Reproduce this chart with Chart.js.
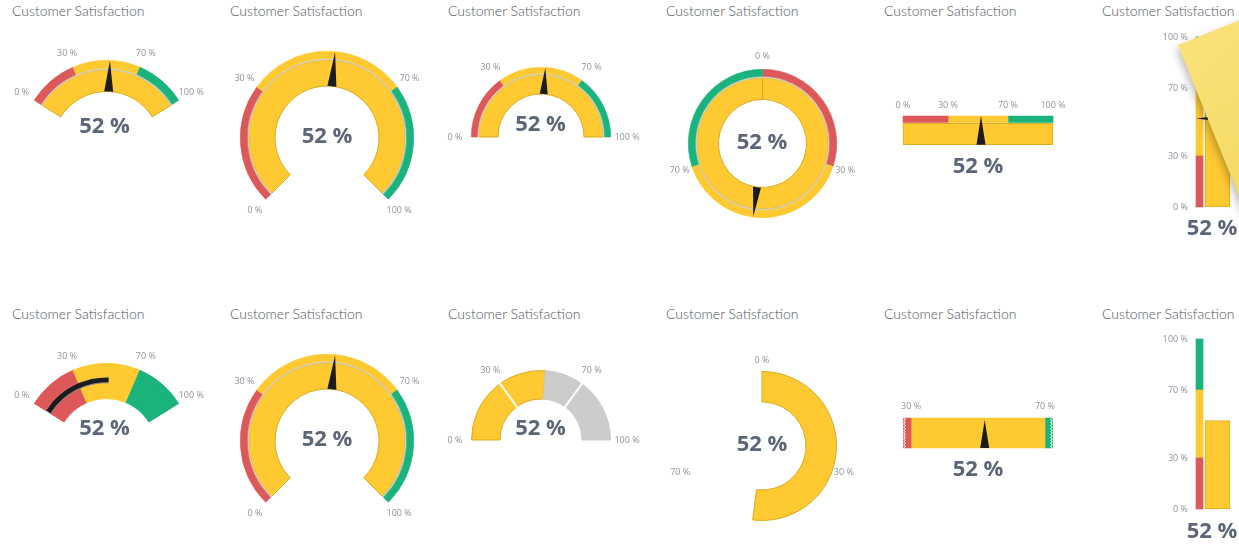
<!DOCTYPE html>
<html>
<head>
<meta charset="utf-8">
<title>Customer Satisfaction gauges</title>
<script src="https://cdn.jsdelivr.net/npm/chart.js@4.4.1/dist/chart.umd.min.js"></script>
<style>
  html, body { margin: 0; padding: 0; background: #fff; }
  #board { position: relative; width: 1239px; height: 545px; overflow: hidden; }
  .title { position: absolute; font-family: 'Lato', 'Open Sans', sans-serif; font-weight: 300; font-size: 14px; line-height: 16px; color: #4f555c; white-space: nowrap; }
  canvas { position: absolute; }
  .note {
    position: absolute; left: 1178px; top: 45px; width: 190px; height: 280px;
    transform-origin: 0 0; transform: rotate(-22deg);
    background: linear-gradient(160deg, #f9e27a 0%, #f5da66 45%, #f0d159 100%);
    box-shadow: -3px 4px 8px rgba(0, 0, 0, 0.28);
  }
</style>
</head>
<body>
<div id="board"></div>
<script>
const TITLE = 'Customer Satisfaction';
const VALUE = 52;
const THRESHOLDS = [0, 30, 70, 100];
const TICK_LABELS = ['0 %', '30 %', '70 %', '100 %'];
const ZONE_COLORS = ['#dd5858', '#fec931', '#1ab37b'];
const ZOOM_MIN = 27.6;
const ZOOM_MAX = 72.4;

const YELLOW = '#fec931';
const YELLOW_EDGE = '#d9ab22';
const TRACK = '#cccccc';
const NEEDLE = '#1c1c1c';
const SEPARATOR = '#d6d0bb';
const LABEL_COLOR = '#8d939c';
const VALUE_COLOR = '#5c6678';
const VALUE_TEXT = VALUE + ' %';
const SCALE_MAX = THRESHOLDS[THRESHOLDS.length - 1];

const zoneSizes = THRESHOLDS.slice(1).map((t, i) => t - THRESHOLDS[i]);

const COLUMNS = [12, 230, 448, 666, 884, 1102];
const ROWS = [3, 306];

const board = document.getElementById('board');

// value first, then whatever is left of each zone above it
function valueSplit() {
    const segs = [{ size: VALUE, filled: true, zone: -1 }];
    let from = VALUE;
    THRESHOLDS.filter(t => t > VALUE).forEach(t => {
        segs.push({ size: t - from, filled: false, zone: THRESHOLDS.indexOf(t) - 1 });
        from = t;
    });
    return segs;
}

function addTitle(left, top) {
    const d = document.createElement('div');
    d.className = 'title';
    d.style.left = left + 'px';
    d.style.top = top + 'px';
    d.textContent = TITLE;
    board.appendChild(d);
}

function addCanvas(left, top, width, height) {
    const c = document.createElement('canvas');
    c.width = width;
    c.height = height;
    c.style.left = left + 'px';
    c.style.top = top + 'px';
    c.style.width = width + 'px';
    c.style.height = height + 'px';
    board.appendChild(c);
    return c;
}

const gaugeDecor = {
    id: 'gaugeDecor',
    afterDatasetsDraw(chart, args, o) {
        const ctx = chart.ctx;
        ctx.save();
        if (o.radial) drawRadialDecor(chart, ctx, o);
        else drawLinearDecor(chart, ctx, o);
        ctx.fillStyle = VALUE_COLOR;
        ctx.font = 'bold 22px "Open Sans", sans-serif';
        ctx.textAlign = 'center';
        ctx.textBaseline = 'middle';
        ctx.fillText(VALUE_TEXT, o.valueAt[0] - o.origin[0], o.valueAt[1] - o.origin[1]);
        ctx.restore();
    }
};

function drawRadialDecor(chart, ctx, o) {
    const outerArc = chart.getDatasetMeta(0).data[0];
    const innerArc = chart.getDatasetMeta(chart.data.datasets.length - 1).data[0];
    const cx = outerArc.x, cy = outerArc.y;
    const outerR = outerArc.outerRadius, innerR = innerArc.innerRadius;
    const angle = v => (o.start + v / SCALE_MAX * o.sweep) * Math.PI / 180;
    const toXY = (v, r) => [cx + r * Math.sin(angle(v)), cy - r * Math.cos(angle(v))];

    if (o.dividers) {
        ctx.strokeStyle = '#ffffff';
        ctx.lineWidth = 2;
        THRESHOLDS.slice(1, -1).forEach(t => {
            const a = toXY(t, innerR - 1), b = toXY(t, outerR + 1);
            ctx.beginPath();
            ctx.moveTo(a[0], a[1]);
            ctx.lineTo(b[0], b[1]);
            ctx.stroke();
        });
    }

    if (o.needle) {
        const a = angle(VALUE);
        const tip = toXY(VALUE, outerR - 0.5);
        const base = toXY(VALUE, innerR);
        const px = Math.cos(a) * o.needle, py = Math.sin(a) * o.needle;
        ctx.fillStyle = NEEDLE;
        ctx.beginPath();
        ctx.moveTo(tip[0], tip[1]);
        ctx.lineTo(base[0] + px, base[1] + py);
        ctx.lineTo(base[0] - px, base[1] - py);
        ctx.closePath();
        ctx.fill();
    }

    ctx.font = '9px "Open Sans", sans-serif';
    ctx.fillStyle = LABEL_COLOR;
    ctx.textAlign = 'center';
    ctx.textBaseline = 'middle';
    THRESHOLDS.forEach((t, i) => {
        if (o.sweep >= 360 && i === THRESHOLDS.length - 1) return;
        const p = toXY(t, o.labelR);
        ctx.fillText(TICK_LABELS[i], p[0], p[1]);
    });
}

function drawLinearDecor(chart, ctx, o) {
    const area = chart.chartArea;
    const scale = o.vertical ? chart.scales.y : chart.scales.x;

    if (o.zigzag) {
        ctx.strokeStyle = '#ffffff';
        ctx.lineWidth = 1;
        [[area.left, 1], [area.right, -1]].forEach(([x0, dir]) => {
            ctx.beginPath();
            let k = 0;
            for (let y = area.top; y <= area.bottom; y += 1.5, k++) {
                const x = x0 + dir * (k % 2 ? 2.5 : 0.5);
                if (k === 0) ctx.moveTo(x, y); else ctx.lineTo(x, y);
            }
            ctx.stroke();
        });
    }

    if (o.needle) {
        const from = chart.getDatasetMeta(o.needle.from[0]).data[o.needle.from[1]];
        const to = chart.getDatasetMeta(o.needle.to[0]).data[o.needle.to[1]];
        const p = scale.getPixelForValue(VALUE);
        const h = o.needle.half;
        ctx.fillStyle = NEEDLE;
        ctx.beginPath();
        if (o.vertical) {
            const tip = from.x - from.width / 2 + o.needle.inset;
            const base = to.x + to.width / 2;
            ctx.moveTo(tip, p);
            ctx.lineTo(base, p - h);
            ctx.lineTo(base, p + h);
        } else {
            const tip = from.y - from.height / 2 + o.needle.inset;
            const base = to.y + to.height / 2;
            ctx.moveTo(p, tip);
            ctx.lineTo(p - h, base);
            ctx.lineTo(p + h, base);
        }
        ctx.closePath();
        ctx.fill();
    }

    ctx.font = '9px "Open Sans", sans-serif';
    ctx.fillStyle = LABEL_COLOR;
    ctx.textBaseline = 'middle';
    THRESHOLDS.forEach((t, i) => {
        if (t < scale.min || t > scale.max) return;
        const p = scale.getPixelForValue(t);
        if (o.vertical) {
            ctx.textAlign = 'right';
            ctx.fillText(TICK_LABELS[i], o.labelAt - o.origin[0], p);
        } else {
            ctx.textAlign = 'center';
            ctx.fillText(TICK_LABELS[i], p, o.labelAt - o.origin[1]);
        }
    });
}

function radialGauge(g) {
    const pad = 36;
    const left = g.cx - g.r - pad, top = g.cy - g.r - pad;
    const size = 2 * (g.r + pad);
    const canvas = addCanvas(left, top, size, size);
    const filler = 360 - g.sweep;
    const datasets = g.rings.map(ring => {
        const data = ring.sizes.map(s => s * g.sweep / SCALE_MAX);
        const colors = ring.colors.slice();
        const edges = ring.edges ? ring.edges.slice() : ring.colors.map(c => ring.edge || c);
        const widths = ring.widths ? ring.widths.slice() : ring.colors.map(() => ring.edgeWidth === undefined ? 0.6 : ring.edgeWidth);
        if (filler > 0) {
            data.push(filler);
            colors.push('rgba(0,0,0,0)');
            edges.push('rgba(0,0,0,0)');
            widths.push(0);
        }
        return {
            data,
            backgroundColor: colors,
            borderColor: edges,
            borderWidth: widths,
            hoverBorderWidth: 0,
            hoverOffset: 0,
            weight: ring.weight
        };
    });
    new Chart(canvas, {
        type: 'doughnut',
        data: { datasets },
        options: {
            responsive: false,
            animation: false,
            events: [],
            rotation: g.start,
            circumference: 360,
            cutout: g.inner,
            layout: { padding: pad },
            plugins: {
                legend: { display: false },
                tooltip: { enabled: false },
                gaugeDecor: {
                    radial: true,
                    start: g.start,
                    sweep: g.sweep,
                    needle: g.needle || 0,
                    dividers: !!g.dividers,
                    labelR: g.labelR,
                    valueAt: g.valueAt,
                    origin: [left, top]
                }
            }
        },
        plugins: [gaugeDecor]
    });
}

function thresholdRings(band, sep, main) {
    return [
        { sizes: zoneSizes, colors: ZONE_COLORS, weight: band },
        { sizes: [SCALE_MAX], colors: [SEPARATOR], weight: sep },
        { sizes: [VALUE, SCALE_MAX - VALUE], colors: [YELLOW, YELLOW], edge: YELLOW_EDGE, edgeWidth: 1, weight: main }
    ];
}

function linearGauge(g) {
    const [left, top, width, height] = g.box;
    const canvas = addCanvas(left, top, width, height);
    const area = g.area; // page coords of the plot area: left, top, right, bottom
    const vertical = !!g.vertical;
    const datasets = g.datasets.map(d => Object.assign({
        borderWidth: 0,
        borderSkipped: false,
        stack: 'gauge',
        clip: g.clip === undefined ? false : g.clip
    }, d));
    const valueScale = { type: 'linear', min: g.min, max: g.max, stacked: true, display: false };
    const catScale = { type: 'category', labels: g.categories, offset: g.categories.length === 1, stacked: true, display: false };
    new Chart(canvas, {
        type: 'bar',
        data: { labels: g.categories, datasets },
        options: {
            indexAxis: vertical ? 'x' : 'y',
            responsive: false,
            animation: false,
            events: [],
            layout: {
                padding: {
                    left: area[0] - left,
                    top: area[1] - top,
                    right: left + width - area[2],
                    bottom: top + height - area[3]
                }
            },
            scales: vertical ? { x: catScale, y: valueScale } : { x: valueScale, y: catScale },
            plugins: {
                legend: { display: false },
                tooltip: { enabled: false },
                gaugeDecor: {
                    radial: false,
                    vertical,
                    needle: g.needle || null,
                    zigzag: !!g.zigzag,
                    labelAt: g.labelAt,
                    valueAt: g.valueAt,
                    origin: [left, top]
                }
            }
        },
        plugins: [gaugeDecor]
    });
}

function zoneDatasets(thickness) {
    return zoneSizes.map((s, i) => ({
        data: [s, null],
        backgroundColor: ZONE_COLORS[i],
        barThickness: thickness
    }));
}

ROWS.forEach(y => COLUMNS.forEach(x => addTitle(x, y)));

// row 1
radialGauge({ cx: 106, cy: 145, r: 85.5, inner: 54, start: -58, sweep: 116,
    rings: thresholdRings(8, 1.5, 22), needle: 4.5, labelR: 100, valueAt: [104, 126] });
radialGauge({ cx: 327, cy: 137.5, r: 87, inner: 52, start: -135, sweep: 270,
    rings: thresholdRings(7, 1.5, 26.5), needle: 4.5, labelR: 102, valueAt: [327, 136] });
radialGauge({ cx: 540.5, cy: 137, r: 70, inner: 43, start: -90, sweep: 180,
    rings: thresholdRings(6, 1.5, 19.5), needle: 4, labelR: 86, valueAt: [540, 125] });
radialGauge({ cx: 762.5, cy: 143, r: 74.5, inner: 44, start: 0, sweep: 360,
    rings: thresholdRings(7, 1.5, 22), needle: 4, labelR: 87, valueAt: [762, 142] });

linearGauge({
    box: [880, 95, 200, 90], area: [903, 119.25, 1053, 134],
    categories: ['band', 'value'], min: 0, max: SCALE_MAX,
    datasets: zoneDatasets(6.5).concat([{
        data: [null, SCALE_MAX], backgroundColor: YELLOW, borderColor: YELLOW_EDGE, borderWidth: 1, barThickness: 21.5
    }]),
    needle: { from: [0, 0], to: [3, 1], inset: 0, half: 4.5 },
    labelAt: 105, valueAt: [978, 167]
});

linearGauge({
    box: [1150, 25, 89, 225], area: [1199.5, 37, 1217.5, 207], vertical: true,
    categories: ['band', 'value'], min: 0, max: SCALE_MAX,
    datasets: zoneDatasets(7).concat([{
        data: [null, SCALE_MAX], backgroundColor: YELLOW, borderColor: YELLOW_EDGE, borderWidth: 1, barThickness: 25
    }]),
    needle: { from: [0, 0], to: [3, 1], inset: 0, half: 4 },
    labelAt: 1188, valueAt: [1212, 229]
});

// row 2
const progress = valueSplit();
radialGauge({ cx: 106, cy: 448, r: 85.5, inner: 50, start: -58, sweep: 116,
    rings: [
        { sizes: zoneSizes, colors: ZONE_COLORS, edgeWidth: 1, weight: 13.5 },
        { sizes: progress.map(s => s.size),
          colors: progress.map(s => s.filled ? NEEDLE : ZONE_COLORS[s.zone]),
          edges: progress.map(s => s.filled ? '#8a8a8a' : ZONE_COLORS[s.zone]),
          widths: progress.map(() => 1),
          weight: 6 },
        { sizes: zoneSizes, colors: ZONE_COLORS, edgeWidth: 1, weight: 16 }
    ],
    labelR: 100, valueAt: [104, 428] });
radialGauge({ cx: 327, cy: 440.5, r: 87, inner: 52, start: -135, sweep: 270,
    rings: thresholdRings(7, 1.5, 26.5), needle: 4.5, labelR: 102, valueAt: [327, 439] });
radialGauge({ cx: 540.5, cy: 439.5, r: 70, inner: 41, start: -90, sweep: 180,
    rings: [{ sizes: progress.map(s => s.size),
              colors: progress.map(s => s.filled ? YELLOW : TRACK),
              edges: progress.map(s => s.filled ? YELLOW_EDGE : TRACK),
              edgeWidth: 1, weight: 1 }],
    dividers: true, labelR: 86, valueAt: [540, 428] });
radialGauge({ cx: 762, cy: 446, r: 75, inner: 44, start: 0, sweep: 360,
    rings: [{ sizes: [VALUE, SCALE_MAX - VALUE], colors: [YELLOW, 'rgba(0,0,0,0)'],
              edges: [YELLOW_EDGE, 'rgba(0,0,0,0)'], widths: [1, 0], weight: 1 }],
    labelR: 86, valueAt: [762, 445] });

linearGauge({
    box: [880, 395, 200, 90], area: [903, 418, 1053, 448],
    categories: ['value'], min: ZOOM_MIN, max: ZOOM_MAX,
    clip: { left: 0, right: 0, top: false, bottom: false },
    datasets: zoneSizes.map((s, i) => ({ data: [s], backgroundColor: ZONE_COLORS[i], barThickness: 30 })),
    needle: { from: [0, 0], to: [0, 0], inset: 2, half: 4.5 },
    zigzag: true, labelAt: 406, valueAt: [978, 470]
});

linearGauge({
    box: [1150, 327, 89, 218], area: [1199.5, 339, 1217.5, 509], vertical: true,
    categories: ['band', 'value'], min: 0, max: SCALE_MAX,
    datasets: zoneDatasets(7).concat([{
        data: [null, VALUE], backgroundColor: YELLOW, borderColor: YELLOW_EDGE, borderWidth: 1, barThickness: 25
    }]),
    labelAt: 1188, valueAt: [1212, 532]
});

const note = document.createElement('div');
note.className = 'note';
board.appendChild(note);
</script>
</body>
</html>
